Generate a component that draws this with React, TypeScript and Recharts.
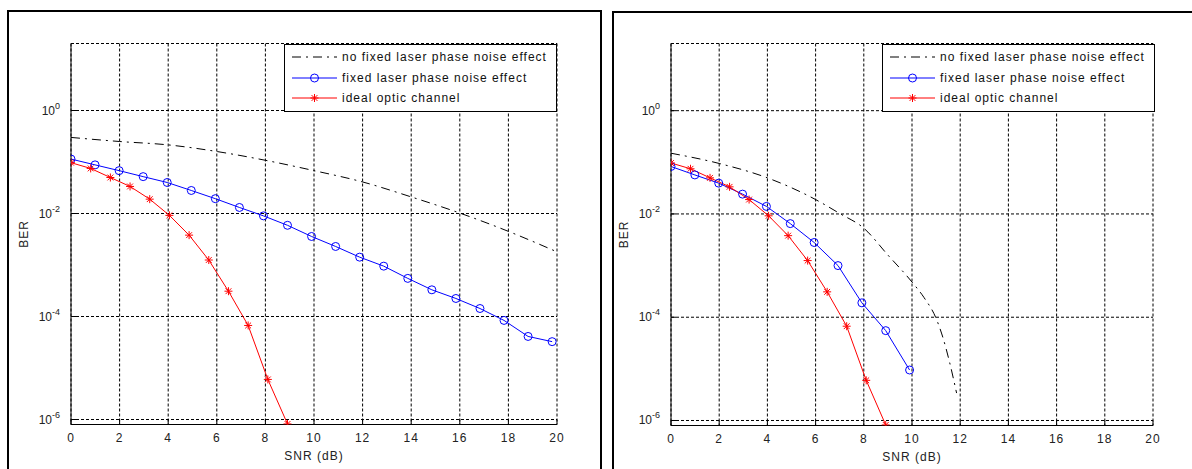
import React from 'react';
import { LineChart, Line, XAxis, YAxis, CartesianGrid, Legend } from 'recharts';

const FONT = '"Liberation Sans", Arial, Helvetica, sans-serif';
const BLUE = '#0000ff';
const RED = '#ff0000';
const DASHDOT = '9 5 2 5';
const TICK = -5; // MATLAB ticks point into the plot box

const snrTicks = [0, 2, 4, 6, 8, 10, 12, 14, 16, 18, 20];
const berTicks = [1, 1e-2, 1e-4, 1e-6];
const berDomain = [8e-7, 20];

const seriesNames = [
  'no fixed laser phase noise effect',
  'fixed laser phase noise effect',
  'ideal optic channel',
];

// left panel
const noFixedSnrA = [0, 2, 4, 6, 8, 10, 12, 14, 16, 18, 20];
const noFixedBerA = [0.3, 0.25, 0.215, 0.16, 0.108, 0.068, 0.041, 0.021, 0.0102, 0.0045, 0.0018];
const fixedSnrA = [0, 0.99, 1.98, 2.97, 3.96, 4.95, 5.94, 6.93, 7.92, 8.91, 9.9, 10.89, 11.88, 12.87, 13.86, 14.85, 15.84, 16.83, 17.82, 18.81, 19.8];
const fixedBerA = [0.114, 0.088, 0.068, 0.052, 0.04, 0.028, 0.0194, 0.0131, 0.009, 0.0059, 0.00358, 0.00229, 0.00142, 0.00095, 0.00055, 0.00033, 0.000224, 0.000143, 0.000084, 0.000041, 0.0000325];

// ideal channel (same in both panels)
const idealSnr = [0, 0.81, 1.62, 2.43, 3.24, 4.05, 4.86, 5.67, 6.48, 7.29, 8.1, 8.91];
const idealBer = [0.097, 0.075, 0.05, 0.0335, 0.019, 0.0092, 0.0038, 0.00125, 0.00031, 0.000067, 0.000006, 0.00000082];

// right panel
const noFixedSnrB = [0, 2, 4, 6, 7, 8, 9, 10, 10.5, 11, 11.3, 11.55, 11.85];
const noFixedBerB = [0.15, 0.095, 0.05, 0.019, 0.0102, 0.0053, 0.0016, 0.00048, 0.00024, 0.000095, 0.000038, 0.000014, 0.0000034];
const fixedSnrB = [0, 0.99, 1.98, 2.97, 3.96, 4.95, 5.94, 6.93, 7.92, 8.91, 9.9];
const fixedBerB = [0.083, 0.057, 0.0395, 0.0242, 0.014, 0.0065, 0.0028, 0.001, 0.00019, 0.000055, 0.0000095];

type Pt = { snr: number; ber: number };
const zip = (xs: number[], ys: number[]): Pt[] => xs.map((x, i) => ({ snr: x, ber: ys[i] }));

const StarDot = (props: any) => {
  const { cx, cy, index } = props;
  if (cx == null || cy == null) return <g key={index} />;
  const r = 4;
  const d = 2.9;
  return (
    <g key={`s${index}`} stroke={RED} strokeWidth={1}>
      <line x1={cx - r} y1={cy} x2={cx + r} y2={cy} />
      <line x1={cx} y1={cy - r} x2={cx} y2={cy + r} />
      <line x1={cx - d} y1={cy - d} x2={cx + d} y2={cy + d} />
      <line x1={cx - d} y1={cy + d} x2={cx + d} y2={cy - d} />
    </g>
  );
};

// tick coords arrive shifted by the (negative) tick size, so undo it here
const XTick = ({ x, y, payload }: any) => (
  <text x={x} y={y - TICK + 17} textAnchor="middle" fontFamily={FONT} fontSize={12} letterSpacing={1} fill="#222">
    {payload.value}
  </text>
);

const YTick = ({ x, y, payload }: any) => {
  const exp = Math.round(Math.log10(payload.value));
  return (
    <text x={x + TICK - 11} y={y + 4} textAnchor="end" fontFamily={FONT} fontSize={12} fill="#222">
      10
      <tspan dy={-6} fontSize={9}>{exp}</tspan>
    </text>
  );
};

const LegendBox = () => (
  <div
    style={{
      width: 273,
      height: 68,
      boxSizing: 'border-box',
      border: '1px solid #000',
      background: '#fff',
      position: 'relative',
      fontFamily: FONT,
      fontSize: 12,
      letterSpacing: 1,
      color: '#111',
    }}
  >
    {seriesNames.map((name, i) => (
      <div
        key={name}
        style={{ position: 'absolute', left: 0, top: 2.5 + i * 20.5, height: 20, display: 'flex', alignItems: 'center', whiteSpace: 'nowrap' }}
      >
        <svg width={55} height={20}>
          {i === 0 && <line x1={7} x2={52} y1={10} y2={10} stroke="#000" strokeDasharray={DASHDOT} />}
          {i === 1 && (
            <>
              <line x1={7} x2={52} y1={10} y2={10} stroke={BLUE} />
              <circle cx={29.5} cy={10} r={4} stroke={BLUE} fill="none" />
            </>
          )}
          {i === 2 && (
            <>
              <line x1={7} x2={52} y1={10} y2={10} stroke={RED} />
              <StarDot cx={29.5} cy={10} index={0} />
            </>
          )}
        </svg>
        <span style={{ marginLeft: 2 }}>{name}</span>
      </div>
    ))}
  </div>
);

type PanelProps = {
  left: number;
  width: number;
  rightMargin: number;
  top: number;
  bottom: number;
  noFixed: Pt[];
  fixed: Pt[];
  ideal: Pt[];
  legendLeft: number;
};

const Panel = ({ left, width, rightMargin, top, bottom, noFixed, fixed, ideal, legendLeft }: PanelProps) => (
  <div style={{ position: 'absolute', left, top: 0 }}>
    <LineChart width={width} height={469} margin={{ top, right: rightMargin, bottom, left: 21 }}>
      <CartesianGrid stroke="#000" strokeDasharray="3 2" />
      <XAxis
        dataKey="snr"
        type="number"
        domain={[0, 20]}
        ticks={snrTicks}
        allowDataOverflow
        height={40}
        tickSize={TICK}
        tickMargin={0}
        tickLine={{ stroke: '#000' }}
        axisLine={{ stroke: '#000' }}
        tick={<XTick />}
        label={(p: any) => {
          const vb = p.viewBox || {};
          return (
            <text
              x={vb.x + vb.width / 2}
              y={vb.y + 35}
              textAnchor="middle"
              fontFamily={FONT}
              fontSize={12}
              letterSpacing={1}
              fill="#222"
            >
              SNR (dB)
            </text>
          );
        }}
      />
      <XAxis
        xAxisId="top"
        orientation="top"
        type="number"
        domain={[0, 20]}
        ticks={snrTicks}
        height={0}
        tickSize={TICK}
        tick={false}
        tickLine={{ stroke: '#000' }}
        axisLine={{ stroke: '#000' }}
      />
      <YAxis
        type="number"
        scale="log"
        domain={berDomain}
        ticks={berTicks}
        allowDataOverflow
        width={50}
        tickSize={TICK}
        tickMargin={0}
        tickLine={{ stroke: '#000' }}
        axisLine={{ stroke: '#000' }}
        tick={<YTick />}
        label={(p: any) => {
          const vb = p.viewBox || {};
          const cy = vb.y + vb.height / 2;
          return (
            <text
              x={24}
              y={cy}
              transform={`rotate(-90 24 ${cy})`}
              textAnchor="middle"
              dominantBaseline="central"
              fontFamily={FONT}
              fontSize={12}
              letterSpacing={1}
              fill="#222"
            >
              BER
            </text>
          );
        }}
      />
      <YAxis
        yAxisId="right"
        orientation="right"
        type="number"
        scale="log"
        domain={berDomain}
        ticks={berTicks}
        allowDataOverflow
        width={0}
        tickSize={TICK}
        tick={false}
        tickLine={{ stroke: '#000' }}
        axisLine={{ stroke: '#000' }}
      />
      <Legend
        layout="vertical"
        align="center"
        verticalAlign="middle"
        wrapperStyle={{ left: legendLeft, top, width: 273, height: 68 }}
        content={() => <LegendBox />}
      />
      <Line
        data={noFixed}
        dataKey="ber"
        name={seriesNames[0]}
        type="monotone"
        stroke="#000"
        strokeWidth={1}
        strokeDasharray={DASHDOT}
        dot={false}
        isAnimationActive={false}
      />
      <Line
        data={fixed}
        dataKey="ber"
        name={seriesNames[1]}
        type="linear"
        stroke={BLUE}
        strokeWidth={1}
        dot={{ r: 4, stroke: BLUE, fill: 'none', strokeWidth: 1 }}
        isAnimationActive={false}
      />
      <Line
        data={ideal}
        dataKey="ber"
        name={seriesNames[2]}
        type="linear"
        stroke={RED}
        strokeWidth={1}
        dot={<StarDot />}
        isAnimationActive={false}
      />
    </LineChart>
  </div>
);

export default function App() {
  const ideal = zip(idealSnr, idealBer);
  return (
    <div style={{ position: 'fixed', left: 0, top: 0, width: 1192, height: 469, overflow: 'hidden', background: '#fff' }}>
      <div style={{ position: 'absolute', left: 7, top: 10, width: 595, height: 480, boxSizing: 'border-box', border: '2px solid #000' }} />
      <div style={{ position: 'absolute', left: 612, top: 11, width: 620, height: 480, boxSizing: 'border-box', border: '2px solid #000' }} />
      <Panel
        left={0}
        width={600}
        rightMargin={43}
        top={43.5}
        bottom={4.5}
        noFixed={zip(noFixedSnrA, noFixedBerA)}
        fixed={zip(fixedSnrA, fixedBerA)}
        ideal={ideal}
        legendLeft={284}
      />
      <Panel
        left={600}
        width={592}
        rightMargin={39}
        top={43.5}
        bottom={3.5}
        noFixed={zip(noFixedSnrB, noFixedBerB)}
        fixed={zip(fixedSnrB, fixedBerB)}
        ideal={ideal}
        legendLeft={282}
      />
    </div>
  );
}
